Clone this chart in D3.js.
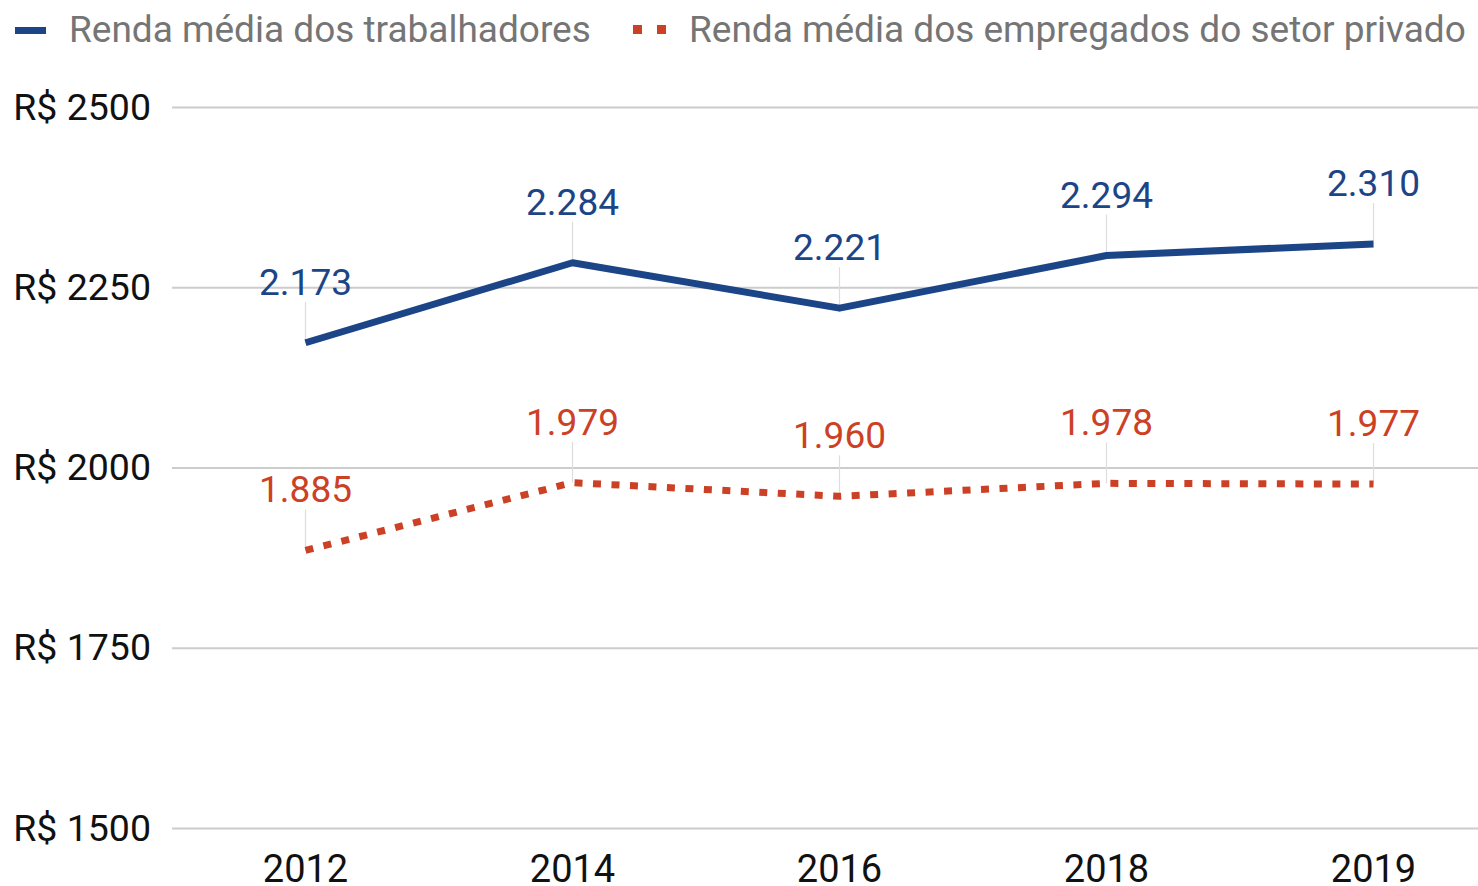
<!DOCTYPE html>
<html>
<head>
<meta charset="utf-8">
<script src="https://cdn.jsdelivr.net/npm/d3@7"></script>
<style>
  html, body { margin: 0; padding: 0; background: #fff; }
  svg { display: block; font-family: Roboto, "Noto Sans", sans-serif; }
</style>
</head>
<body>
<svg id="chart" width="1478" height="886"></svg>
<script>
const years = ["2012", "2014", "2016", "2018", "2019"];
const rendaTrabalhadores = [2173, 2284, 2221, 2294, 2310];
const rendaPrivado = [1885, 1979, 1960, 1978, 1977];
const yTicks = [1500, 1750, 2000, 2250, 2500];
const seriesNames = ["Renda média dos trabalhadores", "Renda média dos empregados do setor privado"];

const W = 1478, H = 886;
const svg = d3.select("#chart");

const x = d3.scaleBand().domain(years).range([172, 1507]).paddingInner(0).paddingOuter(0);
const y = d3.scaleLinear().domain([1500, 2500]).range([828, 107]);
const cx = d => x(d) + x.bandwidth() / 2;

const br = d3.formatLocale({decimal: ",", thousands: ".", grouping: [3], currency: ["R$ ", ""]});
const fmt = br.format(",d");

// Y axis with gridlines
const yAxis = d3.axisLeft(y)
  .tickValues(yTicks)
  .tickSize(-(W - 172))
  .tickPadding(21)
  .tickFormat(d => "R$ " + d);
const gy = svg.append("g").attr("transform", "translate(172,0)").call(yAxis);
gy.select(".domain").remove();
gy.selectAll(".tick line").attr("stroke", "#cccccc").attr("stroke-width", 2);
gy.selectAll(".tick text").attr("fill", "#111").attr("font-size", 37.5).attr("font-family", "Roboto");

// X axis
const xAxis = d3.axisBottom(x).tickSize(0).tickPadding(27);
const gx = svg.append("g").attr("transform", "translate(0,828)").call(xAxis);
gx.select(".domain").remove();
gx.selectAll(".tick text").attr("fill", "#111").attr("font-size", 38).attr("font-family", "Roboto");

const series = [
  {name: seriesNames[0], values: rendaTrabalhadores, color: "#1c4587", dash: null},
  {name: seriesNames[1], values: rendaPrivado, color: "#cc4125", dash: "8 10.5"}
];

// leader lines
series.forEach(s => {
  svg.append("g").selectAll("line").data(s.values).join("line")
    .attr("x1", (d, i) => cx(years[i])).attr("x2", (d, i) => cx(years[i]))
    .attr("y1", d => y(d) - 41).attr("y2", d => y(d))
    .attr("stroke", "#dddddd").attr("stroke-width", 1.2);
});

// lines
const line = d3.line().x((d, i) => cx(years[i])).y(d => y(d));
series.forEach(s => {
  const p = svg.append("path").datum(s.values)
    .attr("d", line)
    .attr("fill", "none")
    .attr("stroke", s.color)
    .attr("stroke-width", 7)
    .attr("stroke-linejoin", "round");
  if (s.dash) p.attr("stroke-dasharray", s.dash).attr("stroke-linejoin", "miter");
});

// labels
series.forEach(s => {
  svg.append("g").selectAll("text").data(s.values).join("text")
    .attr("x", (d, i) => cx(years[i]))
    .attr("y", d => y(d) - 48)
    .attr("text-anchor", "middle")
    .attr("font-size", 37)
    .attr("font-family", "Roboto")
    .attr("fill", s.color)
    .text(d => fmt(d));
});

// legend
const lg = svg.append("g");
lg.append("rect").attr("x", 15).attr("y", 27).attr("width", 31).attr("height", 7).attr("fill", series[0].color);
lg.append("text").attr("x", 69).attr("y", 42).attr("font-size", 37).attr("fill", "#757575").text(series[0].name);
lg.append("rect").attr("x", 633).attr("y", 25).attr("width", 9).attr("height", 9).attr("fill", series[1].color);
lg.append("rect").attr("x", 657).attr("y", 25).attr("width", 9).attr("height", 9).attr("fill", series[1].color);
lg.append("text").attr("x", 689).attr("y", 42).attr("font-size", 37).attr("fill", "#757575").text(series[1].name);
</script>
</body>
</html>
